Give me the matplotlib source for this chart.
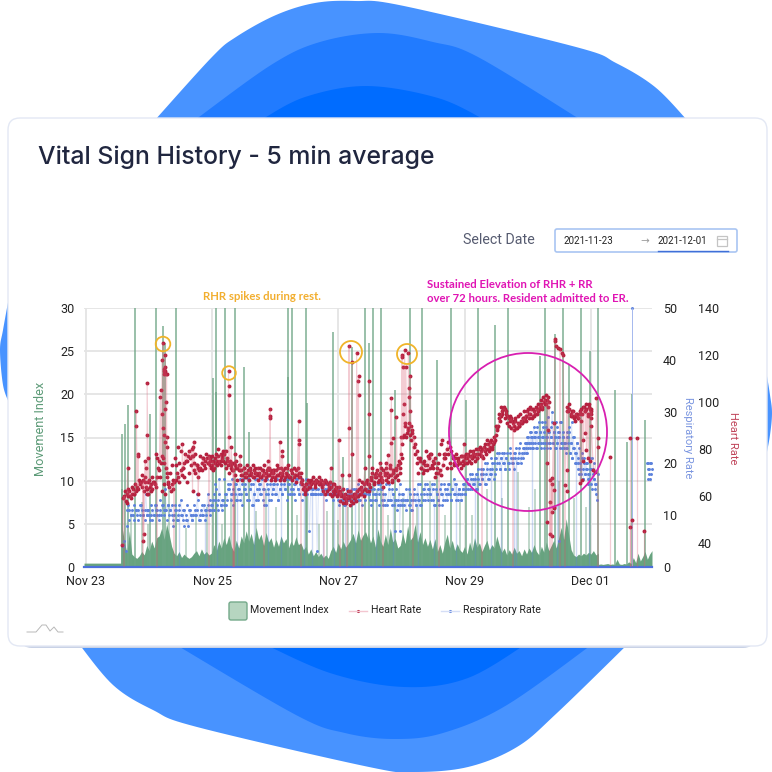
import numpy as np
import matplotlib
matplotlib.use("Agg")
from matplotlib import pyplot as plt
from matplotlib.patches import Polygon, Circle, FancyBboxPatch, Rectangle

# movement index, background level
mv_flat_days = [0, 0.59]
mv_flat = [0.45, 0.45]
mv_a = [4.8,3.0,1.6,4.2,1.5,1.2,1.0,1.3,1.8,1.4,2.5,1.9,3.0,2.2,3.4,3.6,4.5,3.2,5.0,3.8,
        2.4,1.6,1.3,1.8,1.1,1.5,1.2,1.0,1.2,1.6,1.9,1.3,2.1,1.5,1.8,1.4,1.6,2.6,1.9,3.0,
        2.2,3.4,2.6,3.7,2.4,1.8,3.1,2.2,3.6,2.8,4.2,3.0,3.9,2.6,4.6,3.2,3.8,2.5,4.0,2.9,
        3.4,2.3,3.2,2.4,3.6,2.8,3.3,2.2,3.0,2.5,3.5,2.6,2.8,2.0,2.4,1.5,2.1,1.3,1.8,1.2,
        1.6,1.1,1.4,1.0,1.9,2.4,1.7,2.8,2.1,3.0,2.3,2.7,3.2,3.9,2.8,4.3,3.1,3.7,4.1,3.3]
mv_b = [4.0,2.8,3.6,2.3,4.4,3.0,2.4,3.8,2.6,4.5,2.9,3.3,2.2,2.5,3.9,2.7,4.8,3.1,3.5,5.0,
        2.9,4.1,2.6,3.4,2.4,3.2,2.1,3.3,1.8,2.6,1.6,2.9,3.8,2.2,3.1,1.9,2.7,2.0,1.7,2.4,
        1.5,2.9,1.9,3.4,2.3,2.8,1.8,2.5,3.1,2.0,2.6,2.2,3.6,2.5,1.7,2.2,1.4,2.0,1.5,2.3,
        1.6,1.9,1.3,2.1,1.5,2.2,1.7,2.6,1.8,1.4,2.4,1.7,2.9,1.9,2.5,3.1,2.2,3.4,4.6,3.2,
        5.6,3.8,2.0,1.4,1.2,1.5,1.3,1.6,1.4,1.7,1.5,1.9,1.4,1.6]
mv_c = [0.3,0.35,0.3,0.35,0.4,0.3,0.35,0.3,0.9,0.35,0.3,0.4,0.35,0.6,0.4,1.1,0.5,1.6,0.7,1.2,1.8,0.9,1.5,1.9]

# movement spikes
spike_days = [.61,.60,.65,.70,.81,1.14,1.05,1.25,1.28,1.46,2.04,2.09,2.09,2.23,2.40,2.54,2.62,3.23,3.29,3.23,
              3.51,3.54,3.94,4.10,4.25,4.45,4.51,4.58,4.71,4.92,5.16,5.35,5.60,5.82,6.06,6.24,6.51,6.72,
              7.22,7.30,7.34,7.46,7.59,7.68,7.88,8.02,8.15,8.41,8.60,8.68,8.89]
spike_vals = [15.4,9,16.6,18.8,30,30,17.7,27.9,26,30,21.9,20.3,30,30,30,23.2,15.6,30,30,22,
              30,19,27.2,12.7,25.5,30,26,30,30,20.5,30,30,24,30,19.4,30,28,30,
              24.4,30,19.5,27,30,23.5,30,25,30,20.5,14.5,20,17]
minor_days = [.75,.92,1.02,1.35,1.62,1.78,1.95,2.18,2.33,2.72,2.88,3.05,3.38,3.72,3.85,4.02,4.18,4.36,
              4.64,4.82,5.05,5.28,5.48,5.72,5.95,6.15,6.38,6.62,6.88,7.05,7.14,7.52,7.76,7.95]
minor_vals = [6,7.5,5,9,4.5,6,7,5,8,6.5,9,7,6,5,6.5,5.5,7,8.5,
              9,6,8,7,10,6,7.5,6,9,8,11,7,9,10,8,7]

# heart rate, one list per day of the dense band
hr_nov23 = [59,60,58,61,60,62,59,61,63,61,62,64,63,65,66,64,67,68,64,63]
hr_nov24 = [63,66,64,65,63,66,65,64,68,72,75,74,77,76,74,72,70,66,64,62,65,63,66,67,70,68,66,71,69,72,
            74,78,75,77,79,76,80,77,74,70,73,68,71,72,74,76,73,75,76,74,77,75]
hr_nov25 = [76,73,75,72,74,75,77,74,78,76,75,78,79,75,73,74,72,74,71,73,75,72,73,71,
            71,69,72,70,68,71,69,72,70,68,71,70,69,72,70,68,71,69,70,68,71,69,72,70,68,71]
hr_nov26 = [70,68,71,69,72,70,68,69,71,68,70,72,69,68,71,70,68,69,71,69,70,68,66,67,64,62,65,63,66,64,
            65,66,66,65,67,66,65,66,67,65,66,67,66,65,63,66,64,62,65,63,64]
hr_nov27 = [63,61,64,62,60,63,59,61,58,60,59,62,58,60,59,61,58,60,63,61,64,62,65,63,66,62,65,64,
            67,70,66,69,68,71,67,70,68,66,71,69,67,70,68,72,69,66,70,68,71,69,73,70]
hr_nov28 = [74,78,82,86,90,87,89,86,90,88,85,82,79,76,75,72,74,71,73,73,77,72,78,75,74,76,72,70,71,69,
            73,76,78,80,83,81,79,77,74,76,73,75,74,77,75]
hr_nov29 = [75,77,74,76,78,75,77,76,79,77,78,76,80,78,79,77,81,79,80,82,80,83,81,82,83,
            86,89,90,93,94,96,97,97,96,94,93,92,93,91,90,92,89,91,90,92,91,93,92,94]
hr_nov30 = [94,96,93,95,97,94,96,95,97,96,98,99,97,100,101,99,102,100]
hr_dec01 = [98,96,97,95,94,96,94,95,94,93,96,97,95,98,96,97,95,98,97,96]

# second pass through the same band, the cloud is thicker than one strand
hr2_nov23 = [62,57,63,60,64,61,65,63,67,66,69,62,66,61]
hr2_nov24 = [61,67,62,68,66,78,76,71,68,62,65,61,68,65,70,73,67,76,73,81,74,79,72,68,75,66,70,73,77,71,
             78,73,72,77,71,76,72,78,74,73]
hr2_nov25 = [72,77,71,76,78,73,80,75,73,77,79,74,72,76,70,75,73,71,74,69,72,67,71,73,69,67,72,68,70,73,
             67,71,69,73,68,72,70,67,69,72,68,71,73,67,70,72,69,71,67,70]
hr2_nov26 = [71,67,73,69,67,72,70,67,72,69,73,68,71,67,72,69,66,72,68,70,65,63,61,65,67,64,67,66,68,64,
             67,66,68,65,64,62,61,66,62,64,61,60,65,61,62]
hr2_nov27 = [60,62,58,61,57,60,57,59,62,56,60,57,61,59,62,60,63,61,66,60,63,67,65,62,68,72,65,68,70,66,
             69,72,67,64,70,72,66,69,73,67,71,68,72,67,75]
hr2_nov28 = [72,76,85,91,85,88,91,84,87,81,78,74,70,76,72,70,75,79,71,76,78,73,72,68,70,74,78,82,84,78,
             76,72,78,74,72,76,73,78,76,74,72,77]
hr2_nov29 = [73,76,78,74,77,79,74,76,78,75,80,76,78,81,77,80,76,82,78,84,79,81,84,80,85,84,90,88,95,92,
             98,95,98,93,95,91,90,94,89,92,88,93,89,94,90,95,91,93,96,93]
hr2_nov30 = [92,97,95,98,93,97,94,98,95,99,97,101,98,102,99,103,101,98]
hr2_dec01 = [96,99,94,96,93,92,95,93,95,92,98,96,99,94,99,97]

# heart rate, points away from the band
hr_out_days = [.60,.69,.83,.83,.85,.86,1.00,1.00,.97,.99,1.02,.94,.95,1.25,1.24,1.26,1.27,1.31,1.29,1.22,1.21,1.24,1.28,
               1.30,1.25,1.27,1.28,1.32,1.31,1.27,1.28,1.29,1.30,1.56,1.74,1.73,1.72,1.81,2.29,2.29,2.29,2.29,2.33,2.40,2.47,
               2.91,2.95,2.95,2.95,3.10,3.14,3.14,3.40,3.40,3.41,3.91,4.04,4.20,4.32,4.25,4.35,4.34,4.35,4.20,4.24,4.20,
               4.09,4.35,4.45,4.52,4.52,4.52,4.87,4.86,4.89,4.86,4.95,5.06,5.04,5.04,5.08,5.14,5.10,5.17,5.15,5.07,5.05,
               5.17,5.15,5.02,4.69,4.79,4.82,6.02,7.46,7.46,7.48,7.51,7.54,7.57,7.59,7.33,7.36,7.44,7.41,7.39,7.42,7.44,
               7.38,7.45,7.42,7.45,7.33,7.39,7.41,7.62,7.66,7.66,7.91,7.96,7.99,7.94,8.04,8.04,8.04,8.12,8.14,8.14,7.91,
               8.02,8.07,7.885,7.86,8.10]
hr_out_vals = [39,72,96,90,78,77,108,86,75,72,76,41,44,125,118,114,113,112,120,105,102,95,97,
               100,89,86,83,85,81,112,115,113,112,82,83,81,62,61,113,107,103,85,81,78,77,
               75,97,94,93,83,79,77,92,84,82,72,84,124,121,117,111,109,103,89,78,69,
               69,67,72,109,95,77,101.6,96.6,84.6,82.5,93.8,114.7,119,120,122,121,115,111,106,99,95,
               96,102,85,74,74,77.5,82,127,126,124,123,122.5,121,120,74,88,91,67.5,67,65,62.6,
               57.6,55.5,53.4,54.8,49,44,43,64.7,62,71,84,79.6,76,86.7,95,93,90,101.6,84.6,81,75,
               75,71,67,65.5,70.4]
# last few readings, not joined to the rest
hr_end_days = [8.34,8.65,8.76,8.65,8.68,8.87]
hr_end_vals = [76.5,84.6,84.6,47,49.6,45]
hr_gap_days = [.64,.93,1.16,1.43,1.98,2.36,2.37,2.38,2.86,3.44,3.80,4.06,4.16,4.40,4.74,5.22,5.62,6.30,6.80,7.38,7.42,7.55,7.62,8.14]

# respiratory rate, whole numbers
rr_nov23 = [4,5,3,8,12,11,10,11,10,9,11,10,11,10,12,11,10,11,14,10]
rr_nov24 = [10,11,9,10,11,10,12,11,10,9,11,10,12,11,15,11,12,10,11,12,9,10,11,9,10,11,13,10,9,11,
            10,9,8,11,10,9,10,11,10,14,9,10,11,10,12,11,10,14,11,10]
rr_nov25 = [11,12,13,11,16,12,13,17,12,11,13,12,14,13,15,16,13,14,15,14,16,13,15,17,14,12,15,16,14,17,
            13,15,16,12,14,17,15,13,16,14,17,15,12,14,16,15,13,17,14,16]
rr_nov26 = [15,17,14,16,13,15,17,14,16,15,17,14,16,14,17,15,14,16,17,15,14,16,17,14,15,17,14,16,7,14,
            15,14,14,15,3,14,16,14,15,14,15,16,14,14,15,14,16,14,15,14]
rr_nov27 = [14,15,12,14,15,13,14,12,15,13,14,13,15,14,13,15,14,13,15,14,15,14,16,14,15,14,13,15,14,16,
            14,13,15,14,16,15,12,13,14,12,13,16,13,15,14,12,13,11,13,16]
rr_nov28 = [7,13,12,14,13,11,13,15,12,13,11,14,13,12,16,13,12,14,13,15,16,14,13,15,14,16,13,12,15,14,
            13,12,16,14,13,15,14,13,16,14,13,15,17,14,16,13,15,14,13,15]
rr_nov29 = [15,16,14,17,15,16,18,15,17,16,18,15,19,16,18,17,19,16,18,20,17,19,18,20,17,
            21,19,20,22,19,21,20,22,19,21,20,19,22,20,21,19,22,20,21,23,20,22,21,23,22]
rr_nov30 = [23,24,22,25,24,23,26,24,25,23,27,25,24,26,23,25,28,24,26,23,25,27,24,26,28,
            25,23,24,29,26,24,25,27,30,24,26,23,25,28,24,26,5,25,23,28,24,26,25,23,24]
rr_dec01 = [24,22,26,23,25,27,22,24,28,21,25,23,22,20,24,21,19,23,20,18,22,19,17,21,18,
            20,19,16,18,17,21,19,15,18,20,17,16,14,13,18]

rr2_nov23 = [11,9,10,12,11,9,12,10,9,11]
rr2_nov24 = [11,10,12,9,10,12,11,10,13,12,10,11,9,12,11,10,8,12,11,9,12,10,11,8,9,12,11,10,9,12,
             10,11,13,9,12,10,9,11,12,13]
rr2_nov25 = [12,11,14,13,15,11,14,12,13,17,14,12,16,15,14,17,12,16,13,15,14,13,16,17,15,14,13,17,15,12,
             16,14,13,17,15,16,14,13,15,12,17,14,16,13,15]
rr2_nov26 = [16,14,17,13,15,16,14,17,15,13,16,17,15,14,16,13,17,15,14,16,13,15,14,14,16,15,14,14,15,14,
             14,15,16,14,15,14,14,13,15,14,16,14,13,14,15]
rr2_nov27 = [15,13,14,13,15,12,14,15,13,14,12,14,15,13,14,16,13,15,12,14,13,15,16,14,12,13,15,13,14,16,
             12,15,13,14,12,16,13,15,13,12,14,13,15,12,14]
rr2_nov28 = [12,14,13,12,15,13,12,14,11,13,15,12,14,13,16,12,15,14,13,16,15,14,13,15,16,12,14,13,15,14,
             12,16,13,15,14,16,13,15,14,16,13,14,15,13,14]
rr2_nov29 = [16,14,15,17,16,15,17,18,16,17,15,18,17,16,19,17,18,20,16,19,17,18,21,19,20,18,21,22,20,19,
             21,22,20,19,21,22,20,23,21,20,22,21,23,20,22,24,21,23,22,24]
rr2_nov30 = [24,25,23,24,26,25,23,24,25,26,23,27,24,25,26,24,28,25,23,24,27,25,26,24,23,25,28,24,26,25,
             23,27,24,25,26,28,24,23,25,24]
rr2_dec01 = [23,25,24,26,22,24,21,23,25,20,22,24,20,18,19,21,17,20,18,19,20,17,18,19,16,21,19,17,15,16]

rr_tail_days = [8.92,8.93,8.94,8.95,8.96,8.97,8.98,8.99,9.0,8.93,8.97,4.93]
rr_tail_vals = [20,19,20,18,19,17,20,18,19,17,20,7]
rr_top_day = [8.68]
rr_top_val = [50]
rr_gap_days = [1.5,1.92,2.1,2.42,2.7,2.92,3.12,3.48,3.62,3.78,3.96,4.14,4.3,4.62,4.9,5.3,5.55,5.9,6.2,6.45,6.6,6.82,6.85,7.1,7.5,7.8,8.0]

tick_days = [0.03, 2.03, 4.03, 6.03, 8.03]
tick_names = ["Nov 23", "Nov 25", "Nov 27", "Nov 29", "Dec 01"]
mv_ticks = [0, 5, 10, 15, 20, 25, 30]
rr_ticks = [0, 10, 20, 30, 40, 50]
hr_ticks = [40, 60, 80, 100, 120, 140]

# blue shapes behind the card, in pixels
blob_outer_top = [(155,120),(212,57),(236,37),(276,15),(315,3),(355,1),(404,6),(576,47),(616,63),(655,87),(687,120)]
blob_mid_top = [(195,120),(271,65),(320,42),(379,33),(433,42),(478,57),(581,120)]
blob_in_top = [(261,120),(305,97),(367,86),(438,98),(485,120)]
blob_outer_bot = [(76,640),(113,685),(153,710),(197,727),(369,767),(414,772),(468,767),(517,747),(557,713),(632,640)]
blob_mid_bot = [(168,640),(296,715),(345,733),(394,739),(443,733),(507,705),(598,640)]
blob_in_bot = [(256,640),(330,673),(404,687),(468,678),(532,640)]
sliver_left = [(9,297),(3,330),(0,350),(3,385),(9,403)]
sliver_right = [(766,370),(770,395),(772,413),(770,435),(766,457)]


def smooth(pts):
    # catmull-rom through the outline points
    p = np.array([pts[0]] + list(pts) + [pts[-1]], dtype=float)
    out = []
    for i in range(1, len(p) - 2):
        for t in np.linspace(0, 1, 12, endpoint=False):
            out.append(0.5 * (2*p[i] + (p[i+1]-p[i-1])*t + (2*p[i-1]-5*p[i]+4*p[i+1]-p[i+2])*t**2
                              + (3*p[i]-p[i-1]-3*p[i+1]+p[i+2])*t**3))
    out.append(p[-2])
    return out


plt.rcParams['font.family'] = ['Roboto', 'DejaVu Sans']
fig = plt.figure(figsize=(7.72, 7.72), dpi=100, facecolor='white')

# background layer in pixel coordinates
bg = fig.add_axes([0, 0, 1, 1], zorder=0)
bg.set_xlim(0, 772)
bg.set_ylim(772, 0)
bg.axis('off')
for pts, col in [(blob_outer_top, '#4893ff'), (blob_mid_top, '#217bff'), (blob_in_top, '#006cff'),
                 (blob_outer_bot, '#4893ff'), (blob_mid_bot, '#217bff'), (blob_in_bot, '#006cff'),
                 (sliver_left, '#4893ff'), (sliver_right, '#4893ff')]:
    bg.add_patch(Polygon(smooth(pts), closed=True, fc=col, ec='none'))
bg.add_patch(FancyBboxPatch((20, 130), 735, 518, boxstyle="round,pad=0,rounding_size=12", fc='#c9d2e6', ec='none', zorder=3))
bg.add_patch(FancyBboxPatch((8, 118), 759, 528, boxstyle="round,pad=0,rounding_size=12", fc='white', ec='#e3e8f4', lw=1, zorder=4))

# plot area is 84..652 x 308..567 pixels
ax = fig.add_axes([84/772, 1-567/772, 568/772, 259/772], zorder=2)
ax.patch.set_alpha(0)
ax.set_xlim(0, 9)
ax.set_ylim(0, 30)
ax.set_xticks(tick_days)
ax.set_xticklabels(tick_names)
ax.set_yticks(mv_ticks)
ax.grid(True, color='#e4e4e4', lw=1.3)
ax.set_axisbelow(True)
for s in ax.spines.values():
    s.set_visible(False)
ax.tick_params(length=0, labelsize=9, colors='#222222', pad=7)
ax.tick_params(axis='x', pad=6)

mv_x = np.concatenate([mv_flat_days, np.linspace(0.6, 4.5, len(mv_a)), np.linspace(4.5, 8.15, len(mv_b)),
                       np.linspace(8.15, 9, len(mv_c))])
mv_y = np.concatenate([mv_flat, mv_a, mv_b, mv_c])
ax.fill_between(mv_x, 0, mv_y, color='#5f9e78', alpha=0.95, lw=0)
ax.vlines(spike_days, 0, spike_vals, color='#6da585', lw=1.4, alpha=0.7)
ax.vlines(minor_days, 0, minor_vals, color='#6da585', lw=1.1, alpha=0.55)

ax_rr = ax.twinx()
ax_rr.set_zorder(3)
ax_rr.patch.set_alpha(0)
ax_rr.set_ylim(0, 50)
ax_rr.set_yticks(rr_ticks)
ax_rr.tick_params(length=0, labelsize=9, colors='#222222', pad=8)
rr_x = np.concatenate([np.linspace(0.62, 1, len(rr_nov23)), np.linspace(1, 2, len(rr_nov24)),
                       np.linspace(2, 3, len(rr_nov25)), np.linspace(3, 4, len(rr_nov26)),
                       np.linspace(4, 5, len(rr_nov27)), np.linspace(5, 6, len(rr_nov28)),
                       np.linspace(6, 7, len(rr_nov29)), np.linspace(7, 7.62, len(rr_nov30)),
                       np.linspace(7.62, 8.14, len(rr_dec01))])
rr_y = np.concatenate([rr_nov23, rr_nov24, rr_nov25, rr_nov26, rr_nov27, rr_nov28, rr_nov29, rr_nov30, rr_dec01])
rr2_x = np.concatenate([np.linspace(0.68, 1, len(rr2_nov23)), np.linspace(1.01, 1.99, len(rr2_nov24)),
                        np.linspace(2.01, 2.99, len(rr2_nov25)), np.linspace(3.01, 3.99, len(rr2_nov26)),
                        np.linspace(4.01, 4.99, len(rr2_nov27)), np.linspace(5.01, 5.99, len(rr2_nov28)),
                        np.linspace(6.01, 6.99, len(rr2_nov29)), np.linspace(7.01, 7.61, len(rr2_nov30)),
                        np.linspace(7.63, 8.12, len(rr2_dec01))])
rr2_y = np.concatenate([rr2_nov23, rr2_nov24, rr2_nov25, rr2_nov26, rr2_nov27, rr2_nov28, rr2_nov29, rr2_nov30, rr2_dec01])
ax_rr.plot(rr_x, rr_y, color='#5c82dc', lw=0.7, alpha=0.2)
ax_rr.vlines(rr_gap_days, 0, np.interp(rr_gap_days, rr_x, rr_y), color='#5c82dc', lw=1.0, alpha=0.3)
ax_rr.vlines(rr_top_day, 0, rr_top_val, color='#a5b8ee', lw=0.7)
ax_rr.scatter(np.concatenate([rr_x, rr2_x, rr_tail_days, rr_top_day]),
              np.concatenate([rr_y, rr2_y, rr_tail_vals, rr_top_val]),
              s=4.5, color='#5c82dc', lw=0, clip_on=False)
ax_rr.axhline(0, color='#4c6fdc', lw=1.6, clip_on=False)

ax_hr = ax.twinx()
ax_hr.set_zorder(4)
ax_hr.patch.set_alpha(0)
ax_hr.set_ylim(29.8, 140)
ax_hr.set_yticks(hr_ticks)
ax_hr.tick_params(length=0, labelsize=9, colors='#222222', pad=33)
hr_x = np.concatenate([np.linspace(0.62, 1, len(hr_nov23)), np.linspace(1, 2, len(hr_nov24)),
                       np.linspace(2, 3, len(hr_nov25)), np.linspace(3, 4, len(hr_nov26)),
                       np.linspace(4, 5, len(hr_nov27)), np.linspace(5, 6, len(hr_nov28)),
                       np.linspace(6, 7, len(hr_nov29)), np.linspace(7, 7.37, len(hr_nov30)),
                       np.linspace(7.65, 8.04, len(hr_dec01)), hr_out_days])
hr_y = np.concatenate([hr_nov23, hr_nov24, hr_nov25, hr_nov26, hr_nov27, hr_nov28, hr_nov29, hr_nov30, hr_dec01, hr_out_vals])
hr2_x = np.concatenate([np.linspace(0.65, 1, len(hr2_nov23)), np.linspace(1.01, 1.99, len(hr2_nov24)),
                        np.linspace(2.01, 2.99, len(hr2_nov25)), np.linspace(3.01, 3.99, len(hr2_nov26)),
                        np.linspace(4.01, 4.99, len(hr2_nov27)), np.linspace(5.01, 5.99, len(hr2_nov28)),
                        np.linspace(6.01, 6.99, len(hr2_nov29)), np.linspace(7.01, 7.36, len(hr2_nov30)),
                        np.linspace(7.66, 8.03, len(hr2_dec01))])
hr2_y = np.concatenate([hr2_nov23, hr2_nov24, hr2_nov25, hr2_nov26, hr2_nov27, hr2_nov28, hr2_nov29, hr2_nov30, hr2_dec01])
order = np.argsort(hr_x)
ax_hr.plot(hr_x[order], hr_y[order], color='#d9566f', lw=0.8, alpha=0.3)
ax_hr.vlines(hr_gap_days, 29.8, np.interp(hr_gap_days, hr_x[order], hr_y[order]), color='#d9566f', lw=1.2, alpha=0.3)
ax_hr.vlines(hr_end_days, 29.8, hr_end_vals, color='#d9566f', lw=0.9, alpha=0.3)
ax_hr.scatter(np.concatenate([hr_x, hr2_x, hr_end_days]), np.concatenate([hr_y, hr2_y, hr_end_vals]),
              s=8, color='#b5213f', lw=0)
for a in (ax_rr, ax_hr):
    for s in a.spines.values():
        s.set_visible(False)

# front layer in pixel coordinates
fr = fig.add_axes([0, 0, 1, 1], zorder=6)
fr.set_xlim(0, 772)
fr.set_ylim(772, 0)
fr.axis('off')
fr.patch.set_alpha(0)

for cx, cy, r in [(163, 344, 7.3), (229, 373, 6.8), (351, 352, 11), (407, 354, 10)]:
    fr.add_patch(Circle((cx, cy), r, fc='none', ec='#f0b429', lw=1.3))
fr.add_patch(Circle((528, 432), 79, fc='none', ec='#d81fb0', lw=1.3))

fr.text(38, 157, "Vital Sign History - 5 min average", fontsize=17.85, family=['Inter', 'DejaVu Sans'],
        weight='medium', color='#20263f', va='center')
fr.text(203, 296, "RHR spikes during rest.", fontsize=8.2, family=['Lato', 'DejaVu Sans'], weight='bold', color='#f2ae2e', va='center')
fr.text(427, 284, "Sustained Elevation of RHR + RR", fontsize=8.2, family=['Lato', 'DejaVu Sans'], weight='bold', color='#e014b4', va='center')
fr.text(427, 298, "over 72 hours. Resident admitted to ER.", fontsize=8.2, family=['Lato', 'DejaVu Sans'], weight='bold', color='#e014b4', va='center')

fr.text(41, 429, "Movement Index", rotation=90, fontsize=9.2, color='#5d9b78', ha='center', va='center')
fr.text(688, 438, "Respiratory Rate", rotation=270, fontsize=8, color='#7b96e0', ha='center', va='center')
fr.text(733, 438, "Heart Rate", rotation=270, fontsize=8, color='#c0455a', ha='center', va='center')

# date picker
fr.text(463, 240, "Select Date", fontsize=10.3, color='#565b70', va='center')
fr.add_patch(FancyBboxPatch((555, 229), 182, 23, boxstyle="round,pad=0,rounding_size=2", fc='white', ec='#a9c5f2', lw=1.2))
fr.text(563, 241, "2021-11-23", fontsize=7, color='#222222', va='center')
fr.text(645, 241, "\u2192", fontsize=7.5, color='#9a9a9a', va='center', ha='center', family='DejaVu Sans')
fr.text(658, 241, "2021-12-01", fontsize=7, color='#222222', va='center')
fr.plot([658, 728], [251, 251], color='#3f6fd8', lw=1)
fr.add_patch(Rectangle((717, 236), 10, 10, fc='none', ec='#c4c4c4', lw=0.9))
fr.plot([717, 727], [239, 239], color='#c4c4c4', lw=0.9)

# legend
fr.add_patch(FancyBboxPatch((229, 602), 18, 18, boxstyle="round,pad=0,rounding_size=2", fc='#b6d5c0', ec='#74a98a', lw=1))
fr.text(250, 610, "Movement Index", fontsize=7.7, color='#222222', va='center')
fr.plot([349, 367], [610.5, 610.5], color='#f3c6d0', lw=1)
fr.scatter([358], [610.5], s=5, color='#b5213f', lw=0)
fr.text(371, 610, "Heart Rate", fontsize=7.7, color='#222222', va='center')
fr.plot([441, 459], [610.5, 610.5], color='#d5def6', lw=1)
fr.scatter([450], [610.5], s=5, color='#5c82dc', lw=0)
fr.text(463, 610, "Respiratory Rate", fontsize=7.7, color='#222222', va='center')

# small logo
fr.plot([27, 36, 42, 46, 50, 54, 58, 63], [632, 632, 625, 625, 631, 627, 632, 632], color='#b8b8b8', lw=0.7)

fig.savefig("out.png", dpi=100)
